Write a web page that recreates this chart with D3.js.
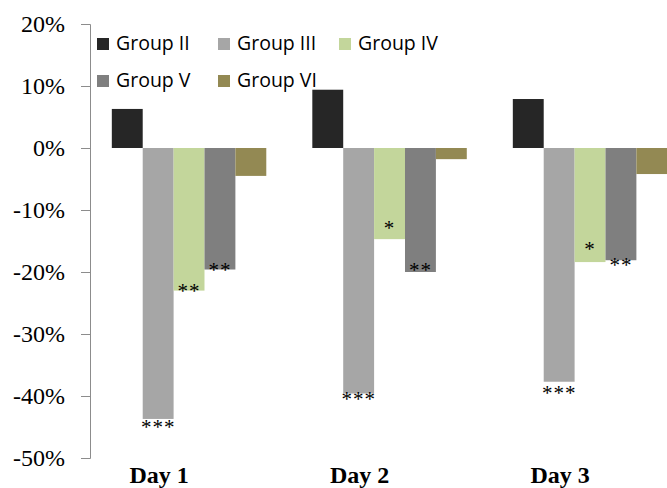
<!DOCTYPE html>
<html>
<head>
<meta charset="utf-8">
<script src="https://cdn.jsdelivr.net/npm/d3@7"></script>
<style>
  html, body { margin: 0; padding: 0; background: #fff; }
  svg { display: block; }
</style>
</head>
<body>
<svg id="chart" width="667" height="488"></svg>
<script>
// Change relative to control, by day and treatment group
const days = ["Day 1", "Day 2", "Day 3"];
const groups = ["Group II", "Group III", "Group IV", "Group V", "Group VI"];
const groupII  = [0.063, 0.094, 0.079];
const groupIII = [-0.437, -0.396, -0.377];
const groupIV  = [-0.230, -0.147, -0.184];
const groupV   = [-0.196, -0.200, -0.181];
const groupVI  = [-0.045, -0.018, -0.042];
const yTicks = [0.2, 0.1, 0, -0.1, -0.2, -0.3, -0.4, -0.5];

// Significance markers (per group, per day)
const sigIII = ["***", "***", "***"];
const sigIV  = ["**", "*", "*"];
const sigV   = ["**", "**", "**"];

const seriesValues = [groupII, groupIII, groupIV, groupV, groupVI];
const seriesSig = [null, sigIII, sigIV, sigV, null];
const colors = ["#262626", "#a6a6a6", "#c3d69b", "#7f7f7f", "#938953"];

// vertical nudge of each marker relative to the bar end (px)
const sigNudge = [null, [5, 2, 8], [-3, -14, -16], [-3, -5, 2], null];

const svg = d3.select("#chart");

const y = d3.scaleLinear().domain([-0.5, 0.2]).range([458, 24]);
const x0 = d3.scaleBand().domain(days).range([88.8, 690.3]).padding(0);
const x1 = d3.scaleBand().domain(groups).range([0, x0.bandwidth()])
  .paddingInner(0).paddingOuter(0.745);

// percent labels with a plain hyphen for negatives
const pct = d => Math.round(d * 100) + "%";

// y axis
const yAxis = d3.axisLeft(y)
  .tickValues(yTicks)
  .tickFormat(pct)
  .tickSize(9)
  .tickSizeOuter(9)
  .tickPadding(16);

const ga = svg.append("g").attr("transform", "translate(90,0)").call(yAxis);
ga.selectAll("path, line").attr("stroke", "#8c8c8c").attr("stroke-width", 1);
ga.selectAll("text")
  .attr("font-family", "'Liberation Serif', 'Times New Roman', serif")
  .attr("font-size", 24)
  .attr("fill", "#000")
  .attr("dy", "0.33em");

// bars
const rows = [];
days.forEach((day, di) => {
  groups.forEach((g, gi) => {
    rows.push({ day, group: g, gi, di, value: seriesValues[gi][di],
      sig: seriesSig[gi] ? seriesSig[gi][di] : null,
      nudge: sigNudge[gi] ? sigNudge[gi][di] : 0 });
  });
});

svg.append("g").selectAll("rect")
  .data(rows)
  .join("rect")
  .attr("x", d => x0(d.day) + x1(d.group))
  .attr("width", x1.bandwidth())
  .attr("y", d => y(Math.max(0, d.value)))
  .attr("height", d => Math.abs(y(d.value) - y(0)))
  .attr("fill", d => colors[d.gi]);

// significance markers
svg.append("g").selectAll("text")
  .data(rows.filter(d => d.sig))
  .join("text")
  .attr("x", d => x0(d.day) + x1(d.group) + x1.bandwidth() / 2)
  .attr("y", d => y(d.value) + d.nudge + 10)
  .attr("text-anchor", "middle")
  .attr("font-family", "'Liberation Serif', 'Times New Roman', serif")
  .attr("font-size", 21)
  .attr("letter-spacing", 1)
  .attr("fill", "#000")
  .text(d => d.sig);

// day labels
svg.append("g").selectAll("text")
  .data(days)
  .join("text")
  .attr("x", d => x0(d) + x0.bandwidth() / 2 - 30)
  .attr("y", 483)
  .attr("text-anchor", "middle")
  .attr("font-family", "'Liberation Serif', 'Times New Roman', serif")
  .attr("font-weight", "bold")
  .attr("font-size", 24)
  .attr("fill", "#000")
  .text(d => d);

// legend
const legendPos = [[97, 38], [218, 38], [339, 38], [97, 75], [218, 75]];
const lg = svg.append("g").selectAll("g")
  .data(groups)
  .join("g")
  .attr("transform", (d, i) => `translate(${legendPos[i][0]},${legendPos[i][1]})`);
lg.append("rect").attr("width", 12).attr("height", 12)
  .attr("fill", (d, i) => colors[i]);
lg.append("text")
  .attr("x", 19)
  .attr("y", 11.8)
  .attr("font-family", "'Open Sans', 'Noto Sans', sans-serif")
  .attr("font-size", 19.5)
  .attr("fill", "#000")
  .text(d => d);
</script>
</body>
</html>
